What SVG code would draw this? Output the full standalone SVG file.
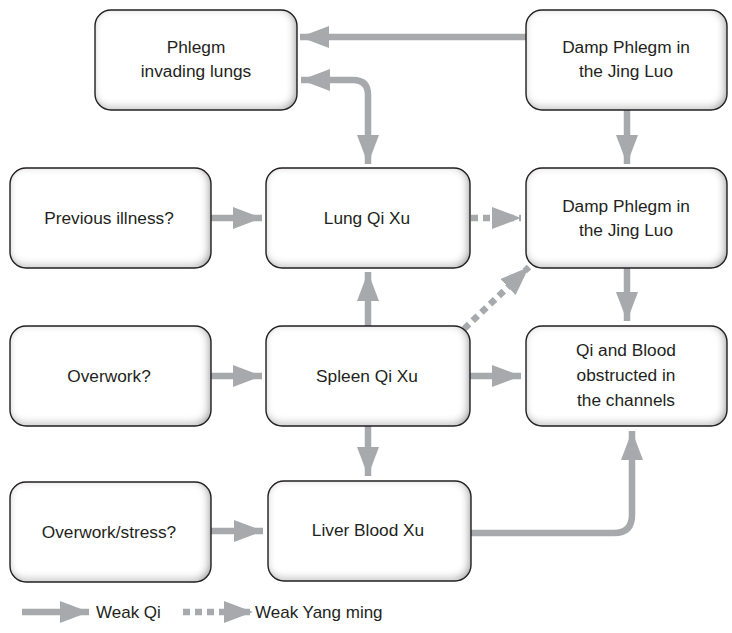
<svg xmlns="http://www.w3.org/2000/svg" width="732" height="633" viewBox="0 0 732 633">
  <defs>
    <!-- soft inner shading along the box edges -->
    <filter id="inset" x="-5%" y="-5%" width="110%" height="110%">
      <feComponentTransfer in="SourceAlpha" result="inv">
        <feFuncA type="table" tableValues="1 0"/>
      </feComponentTransfer>
      <feOffset in="inv" dx="-2" dy="-2" result="off"/>
      <feGaussianBlur in="off" stdDeviation="4" result="blur"/>
      <feFlood flood-color="#8c8c8c" result="col"/>
      <feComposite in="col" in2="blur" operator="in" result="shade"/>
      <feComposite in="shade" in2="SourceAlpha" operator="in" result="inner"/>
      <feMerge>
        <feMergeNode in="SourceGraphic"/>
        <feMergeNode in="inner"/>
      </feMerge>
    </filter>
    <marker id="head" viewBox="0 0 10 10" refX="10" refY="5" markerUnits="userSpaceOnUse" markerWidth="29" markerHeight="22" orient="auto" preserveAspectRatio="none">
      <path d="M0,0 L10,5 L0,10 Z" fill="#a7a9ac"/>
    </marker>
    <marker id="tail" viewBox="0 0 10 10" refX="10" refY="5" markerUnits="userSpaceOnUse" markerWidth="29" markerHeight="22" orient="auto-start-reverse" preserveAspectRatio="none">
      <path d="M0,0 L10,5 L0,10 Z" fill="#a7a9ac"/>
    </marker>
  </defs>
  <style>
    .box { fill: #ffffff; filter: url(#inset); }
    .edge { fill: none; stroke: #231f20; stroke-width: 1.4; }
    .lbl { font-family: "Liberation Sans", Arial, sans-serif; font-size: 17.3px; fill: #231f20; text-anchor: middle; }
    .leg { font-family: "Liberation Sans", Arial, sans-serif; font-size: 17px; fill: #231f20; }
    .con { fill: none; stroke: #a7a9ac; stroke-width: 6.5; marker-end: url(#head); }
    .dash { stroke-dasharray: 7 5; }
  </style>

  <!-- connectors -->
  <g id="connectors">
    <path class="con" d="M526,37 H300"/>
    <path class="con" d="M301,80 H353 Q368,80 368,95 V164" style="marker-start: url(#tail)"/>
    <path class="con" d="M627,110 V164"/>
    <path class="con" d="M211,218 H262"/>
    <path class="con dash" d="M471,218 H521"/>
    <path class="con dash" d="M464,329 L529,267"/>
    <path class="con" d="M627,268 V321"/>
    <path class="con" d="M368,326 V272"/>
    <path class="con" d="M211,376 H262"/>
    <path class="con" d="M470,376 H521"/>
    <path class="con" d="M368,425 V476"/>
    <path class="con" d="M211,531 H263"/>
    <path class="con" d="M471,533 H614 Q632,533 632,515 V431"/>
    <!-- key -->
    <path class="con" d="M22,612 H89"/>
    <path class="con dash" d="M183,612 H253"/>
  </g>

  <g id="phlegm-lungs">
    <rect class="box" x="95" y="10" width="202" height="100" rx="16"/>
    <rect class="edge" x="95" y="10" width="202" height="100" rx="16"/>
    <text class="lbl" x="196" y="53">Phlegm</text>
    <text class="lbl" x="196" y="77">invading lungs</text>
  </g>
  <g id="damp-phlegm-1">
    <rect class="box" x="526" y="10" width="201" height="100" rx="16"/>
    <rect class="edge" x="526" y="10" width="201" height="100" rx="16"/>
    <text class="lbl" x="626" y="53">Damp Phlegm in</text>
    <text class="lbl" x="626" y="77">the Jing Luo</text>
  </g>
  <g id="previous-illness">
    <rect class="box" x="10" y="168" width="201" height="100" rx="16"/>
    <rect class="edge" x="10" y="168" width="201" height="100" rx="16"/>
    <text class="lbl" x="109" y="224">Previous illness?</text>
  </g>
  <g id="lung-qi-xu">
    <rect class="box" x="266" y="168" width="204" height="100" rx="16"/>
    <rect class="edge" x="266" y="168" width="204" height="100" rx="16"/>
    <text class="lbl" x="367" y="224">Lung Qi Xu</text>
  </g>
  <g id="damp-phlegm-2">
    <rect class="box" x="526" y="168" width="201" height="100" rx="16"/>
    <rect class="edge" x="526" y="168" width="201" height="100" rx="16"/>
    <text class="lbl" x="626" y="212">Damp Phlegm in</text>
    <text class="lbl" x="626" y="236">the Jing Luo</text>
  </g>
  <g id="overwork">
    <rect class="box" x="10" y="326" width="201" height="100" rx="16"/>
    <rect class="edge" x="10" y="326" width="201" height="100" rx="16"/>
    <text class="lbl" x="109" y="382">Overwork?</text>
  </g>
  <g id="spleen-qi-xu">
    <rect class="box" x="266" y="326" width="204" height="100" rx="16"/>
    <rect class="edge" x="266" y="326" width="204" height="100" rx="16"/>
    <text class="lbl" x="367" y="382">Spleen Qi Xu</text>
  </g>
  <g id="qi-blood">
    <rect class="box" x="526" y="326" width="201" height="100" rx="16"/>
    <rect class="edge" x="526" y="326" width="201" height="100" rx="16"/>
    <text class="lbl" x="626" y="356">Qi and Blood</text>
    <text class="lbl" x="626" y="381">obstructed in</text>
    <text class="lbl" x="626" y="406">the channels</text>
  </g>
  <g id="overwork-stress">
    <rect class="box" x="10" y="482" width="201" height="100" rx="16"/>
    <rect class="edge" x="10" y="482" width="201" height="100" rx="16"/>
    <text class="lbl" x="109" y="538">Overwork/stress?</text>
  </g>
  <g id="liver-blood-xu">
    <rect class="box" x="268" y="481" width="203" height="100" rx="16"/>
    <rect class="edge" x="268" y="481" width="203" height="100" rx="16"/>
    <text class="lbl" x="368" y="536">Liver Blood Xu</text>
  </g>

  <g id="key">
    <text class="leg" x="96" y="618">Weak Qi</text>
    <text class="leg" x="255" y="618">Weak Yang ming</text>
  </g>
</svg>
